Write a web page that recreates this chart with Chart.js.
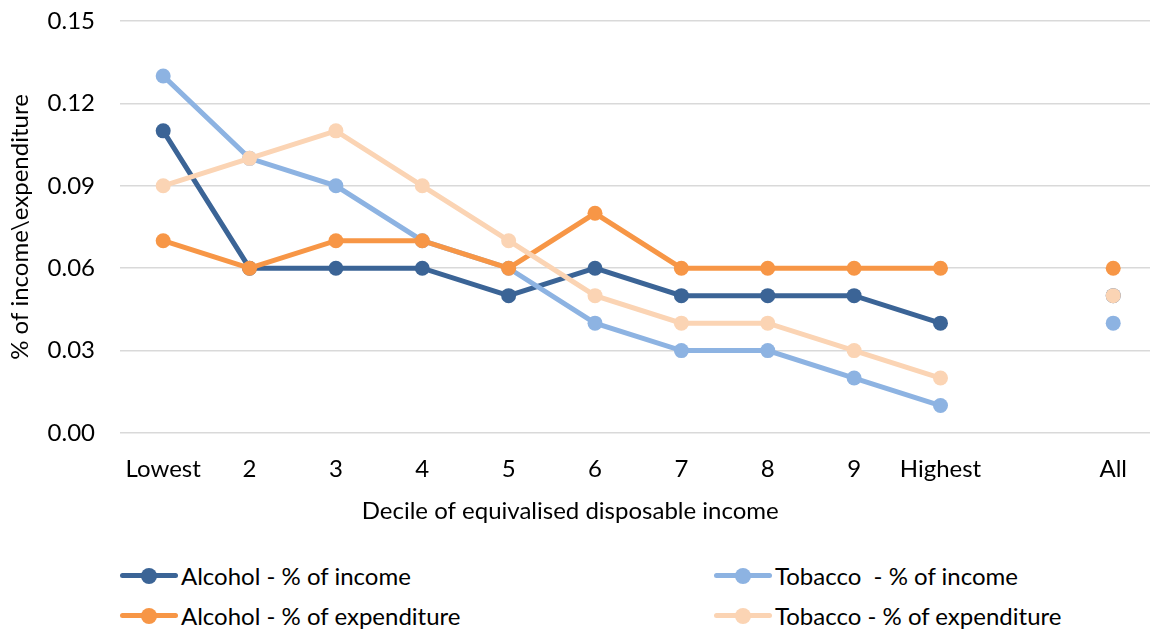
<!DOCTYPE html>
<html>
<head>
<meta charset="utf-8">
<script src="https://cdn.jsdelivr.net/npm/chart.js@4/dist/chart.umd.min.js"></script>
<style>
  html,body{margin:0;padding:0;background:#fff;overflow:hidden;}
  #wrap{position:relative;width:1150px;height:633px;overflow:hidden;}
  #c{position:absolute;left:-16px;top:0;}
  .leg{position:absolute;font-family:Lato,"Open Sans",sans-serif;font-size:24px;color:#000;display:flex;align-items:center;white-space:pre;}
  .leg .sw{position:relative;width:58px;height:16px;margin-right:3px;}
  .leg .sw .ln{position:absolute;left:0;right:0;top:5.5px;height:5px;border-radius:3px;}
  .leg .sw .dt{position:absolute;left:21px;top:0px;width:16px;height:16px;border-radius:50%;}
</style>
</head>
<body>
<div id="wrap">
<canvas id="c" width="1176" height="540"></canvas>
</div>
<script>
const categories = ["Lowest","2","3","4","5","6","7","8","9","Highest","","All"];
const alcoholIncome = [0.11,0.06,0.06,0.06,0.05,0.06,0.05,0.05,0.05,0.04,null,0.05];
const tobaccoIncome = [0.13,0.10,0.09,0.07,0.06,0.04,0.03,0.03,0.02,0.01,null,0.04];
const alcoholExpenditure = [0.07,0.06,0.07,0.07,0.06,0.08,0.06,0.06,0.06,0.06,null,0.06];
const tobaccoExpenditure = [0.09,0.10,0.11,0.09,0.07,0.05,0.04,0.04,0.03,0.02,null,0.05];
const seriesNames = ["Alcohol - % of income","Tobacco  - % of income","Alcohol - % of expenditure","Tobacco - % of expenditure"];
const seriesColors = ["#3B6496","#8DB3E2","#F79646","#FBD4B4"];
const yTicks = [0,0.03,0.06,0.09,0.12,0.15];

const font = "Lato";
const fs = 24;
const seriesData = [alcoholIncome, tobaccoIncome, alcoholExpenditure, tobaccoExpenditure];
const orders = [3,2,1,0];
const datasets = seriesData.map((d,i)=>({
  label: seriesNames[i],
  data: d,
  borderColor: seriesColors[i],
  backgroundColor: seriesColors[i],
  pointBackgroundColor: seriesColors[i],
  pointBorderColor: seriesColors[i],
  borderWidth: 5,
  pointRadius: 7.5,
  pointBorderWidth: 0,
  tension: 0,
  spanGaps: false,
  clip: false,
  order: orders[i]
}));

new Chart(document.getElementById('c'), {
  type: 'line',
  data: { labels: categories, datasets },
  options: {
    responsive: false,
    animation: false,
    layout: { autoPadding: false, padding: { left: 0, right: 3.6, top: 21, bottom: 0 } },
    plugins: {
      legend: { display: false }, tooltip: { enabled: false },
      title: { display: true, position: 'bottom', text: 'Decile of equivalised disposable income', font: { family: font, size: fs, weight: 'normal' }, color: '#000', padding: { top: 13.6, bottom: 14 } }
    },
    scales: {
      x: {
        offset: true,
        grid: { display: false, drawTicks: false },
        border: { display: false },
        ticks: { font: { family: font, size: fs }, color: '#000', padding: 22, maxRotation: 0, autoSkip: false },
        afterFit: (s) => { s.height = 50.6; s.paddingLeft = 0; s.paddingRight = 0; }
      },
      y: {
        min: 0, max: 0.15,
        afterBuildTicks: (axis) => { axis.ticks = yTicks.map(v => ({ value: v })); },
        grid: { color: '#D9D9D9', lineWidth: 1.5, drawTicks: false },
        border: { display: false },
        ticks: { font: { family: font, size: fs }, color: '#000', padding: 25, callback: (v) => Number(v).toFixed(2) },
        title: { display: true, text: '% of income\\expenditure', font: { family: font, size: fs }, color: '#000', padding: { top: 22, bottom: 0 } },
        afterFit: (s) => { s.width = 136; s.paddingTop = 0; s.paddingBottom = 0; }
      }
    }
  }
});

// HTML legend built from the series arrays
const legPos = [[120,561],[714,561],[120,601],[714,601]];
const wrap = document.getElementById('wrap');
seriesNames.forEach((n,i)=>{
  const d = document.createElement('div');
  d.className = 'leg';
  d.style.left = legPos[i][0]+'px';
  d.style.top = legPos[i][1]+'px';
  d.innerHTML = '<div class="sw"><div class="ln" style="background:'+seriesColors[i]+'"></div><div class="dt" style="background:'+seriesColors[i]+'"></div></div>';
  const t = document.createElement('span');
  t.textContent = n;
  d.appendChild(t);
  wrap.appendChild(d);
});
</script>
</body>
</html>
